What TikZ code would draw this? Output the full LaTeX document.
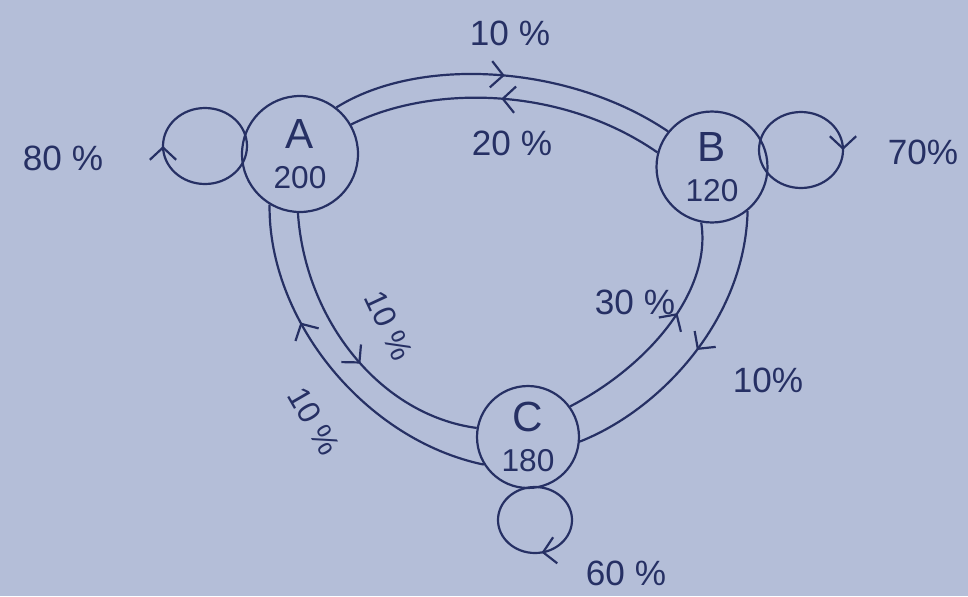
\documentclass[tikz,border=0pt]{standalone}
\usepackage{fontspec}
\setmainfont{Liberation Sans}
\usetikzlibrary{arrows.meta,decorations.markings}
\definecolor{paper}{RGB}{180,190,216}
\definecolor{ink}{RGB}{38,48,100}
\begin{document}
\begin{tikzpicture}[x=0.02cm,y=-0.02cm,line width=1.25pt,color=ink,
  state/.style={circle,draw,inner sep=0pt,align=center,font=\fontsize{18}{23}\selectfont},
  lbl/.style={font=\fontsize{20}{22}\selectfont},
  rlbl/.style={font=\fontsize{18}{20}\selectfont,inner sep=1pt},
  midarrow/.style={postaction={decorate},decoration={markings,
    mark=at position #1 with {\arrow{Straight Barb[length=7pt,width=15pt,line width=1.25pt]}}}}]
\fill[paper] (0,0) rectangle (968,596);
\useasboundingbox (0,0) rectangle (968,596);

\node[state,minimum size=2.32cm] (A) at (300,154)
  {{\fontsize{24}{26}\selectfont A}\\200};
\node[state,minimum size=2.22cm] (B) at (712,167)
  {{\fontsize{24}{26}\selectfont B}\\120};
\node[state,minimum size=2.04cm] (C) at (528,437)
  {{\fontsize{24}{26}\selectfont C}\\180};

% A <-> B
\draw[midarrow=0.5] (A.52) .. controls (420,55) and (570,65) .. (B.141);
\draw[midarrow=0.52] (B.165) .. controls (560,85) and (430,85) .. (A.30);
% A <-> C
\draw[midarrow=0.55] (A.-92) .. controls (305,320) and (380,415) .. (C.170);
\draw[midarrow=0.66] (C.212) .. controls (365,440) and (268,320) .. (A.-121);
% C <-> B
\draw[midarrow=0.6] (C.36) .. controls (650,365) and (712,290) .. (B.-101);
\draw[midarrow=0.5] (B.-51) .. controls (745,320) and (660,410) .. (C.-5);

% self loops
\draw[midarrow=0.5] ([shift={(-95,-8)}]A.center) ++(42,0)
  arc[start angle=0,end angle=360,x radius=42,y radius=38];
\draw[midarrow=0.5] ([shift={(89,-17)}]B.center) ++(-42,0)
  arc[start angle=180,end angle=540,x radius=42,y radius=38];
\draw[midarrow=0.47] ([shift={(7,83)}]C.center) ++(0,-33)
  arc[start angle=-90,end angle=270,x radius=37,y radius=33];

% labels
\node[lbl] (lab) at (510,33) {10 \%};
\node[lbl] (lba) at (512,143) {20 \%};
\node[lbl] (laa) at (63,158) {80 \%};
\node[lbl] (lbb) at (923,152) {70\%};
\node[lbl] (lcb) at (635,302) {30 \%};
\node[lbl] (lbc) at (768,380) {10\%};
\node[lbl] (lcc) at (626,573) {60 \%};
\node[rlbl,rotate=-65] (lac) at (389,326) {10 \%};
\node[rlbl,rotate=-60] (lca) at (314,421) {10 \%};
\end{tikzpicture}
\end{document}
